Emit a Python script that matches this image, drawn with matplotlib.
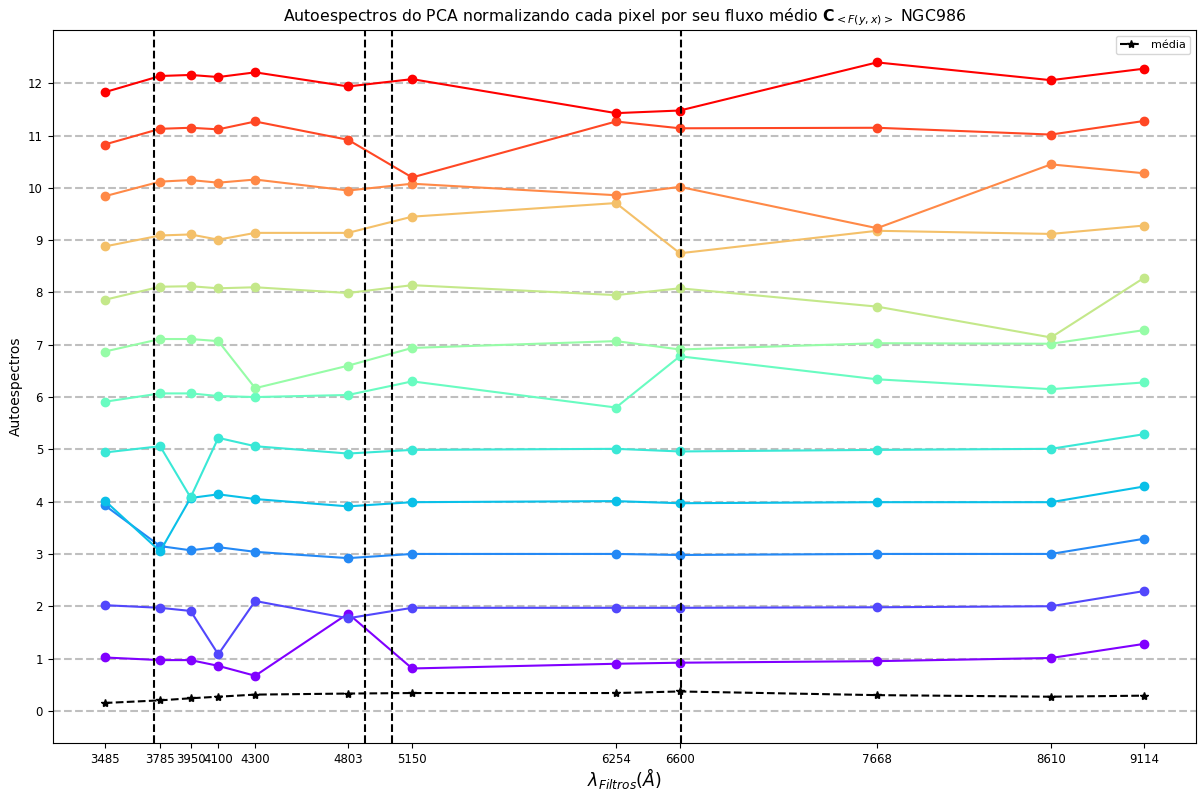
import numpy as np
import matplotlib
matplotlib.use("Agg")
import matplotlib.pyplot as plt

filtros = [3485, 3785, 3950, 4100, 4300, 4803, 5150, 6254, 6600, 7668, 8610, 9114]
linhas_emissao = [3752, 4894, 5041, 6607]

# eigen-spectra already shifted by their offset (1 .. 12)
auto1 = [1.02, 0.97, 0.97, 0.86, 0.67, 1.86, 0.81, 0.90, 0.92, 0.95, 1.01, 1.28]
auto2 = [2.02, 1.97, 1.91, 1.08, 2.10, 1.77, 1.97, 1.97, 1.97, 1.98, 2.00, 2.29]
auto3 = [3.93, 3.15, 3.07, 3.13, 3.04, 2.92, 3.00, 3.00, 2.98, 3.00, 3.00, 3.29]
auto4 = [4.02, 3.05, 4.07, 4.14, 4.05, 3.91, 3.99, 4.01, 3.97, 3.99, 3.99, 4.29]
auto5 = [4.94, 5.06, 4.08, 5.22, 5.06, 4.92, 4.99, 5.01, 4.96, 4.99, 5.01, 5.29]
auto6 = [5.91, 6.07, 6.07, 6.02, 6.00, 6.04, 6.30, 5.80, 6.78, 6.34, 6.15, 6.28]
auto7 = [6.87, 7.11, 7.11, 7.07, 6.17, 6.60, 6.94, 7.07, 6.91, 7.03, 7.02, 7.28]
auto8 = [7.86, 8.11, 8.12, 8.08, 8.10, 7.99, 8.14, 7.95, 8.08, 7.73, 7.14, 8.28]
auto9 = [8.88, 9.09, 9.11, 9.01, 9.14, 9.14, 9.45, 9.71, 8.75, 9.18, 9.12, 9.28]
auto10 = [9.84, 10.12, 10.15, 10.10, 10.16, 9.95, 10.08, 9.86, 10.02, 9.23, 10.45, 10.28]
auto11 = [10.83, 11.13, 11.15, 11.12, 11.27, 10.92, 10.20, 11.27, 11.14, 11.15, 11.02, 11.28]
auto12 = [11.83, 12.14, 12.16, 12.12, 12.21, 11.94, 12.08, 11.43, 11.48, 12.40, 12.06, 12.28]
media = [0.15, 0.20, 0.24, 0.27, 0.31, 0.33, 0.34, 0.34, 0.37, 0.30, 0.27, 0.29]

series = [auto1, auto2, auto3, auto4, auto5, auto6, auto7, auto8, auto9, auto10, auto11, auto12]

fig = plt.figure(figsize=(11.99, 7.89), dpi=100)
ax = fig.add_axes([0.044, 0.058, 0.9535, 0.904])

cores = plt.cm.rainbow(np.linspace(0, 1, len(series)))
for i in range(len(series) + 1):
    ax.axhline(i, color='gray', ls='--', alpha=0.5, lw=1.5, zorder=0)

for s, c in zip(series, cores):
    ax.plot(filtros, s, '-o', color=c, lw=1.5, ms=6)

ax.plot(filtros, media, '--*', color='black', lw=1.5, ms=6, label='média')

for xl in linhas_emissao:
    ax.axvline(xl, color='black', ls='--', lw=1.5)

ax.set_xticks(filtros)
ax.set_xticklabels([str(f) for f in filtros], fontsize=8.5)
ax.set_yticks(range(13))
ax.tick_params(axis='y', labelsize=8.5)
ax.set_xlabel(r'$\lambda_{Filtros} (\AA)$', fontsize=12.5, labelpad=0)
ax.set_ylabel('Autoespectros', fontsize=10)
ax.set_title(r'Autoespectros do PCA normalizando cada pixel por seu fluxo médio $\mathbf{C}_{<F(y,x)>}$ NGC986', fontsize=11.3)
ax.legend(loc='upper right', fontsize=8)

fig.savefig('out.png', dpi=100)
